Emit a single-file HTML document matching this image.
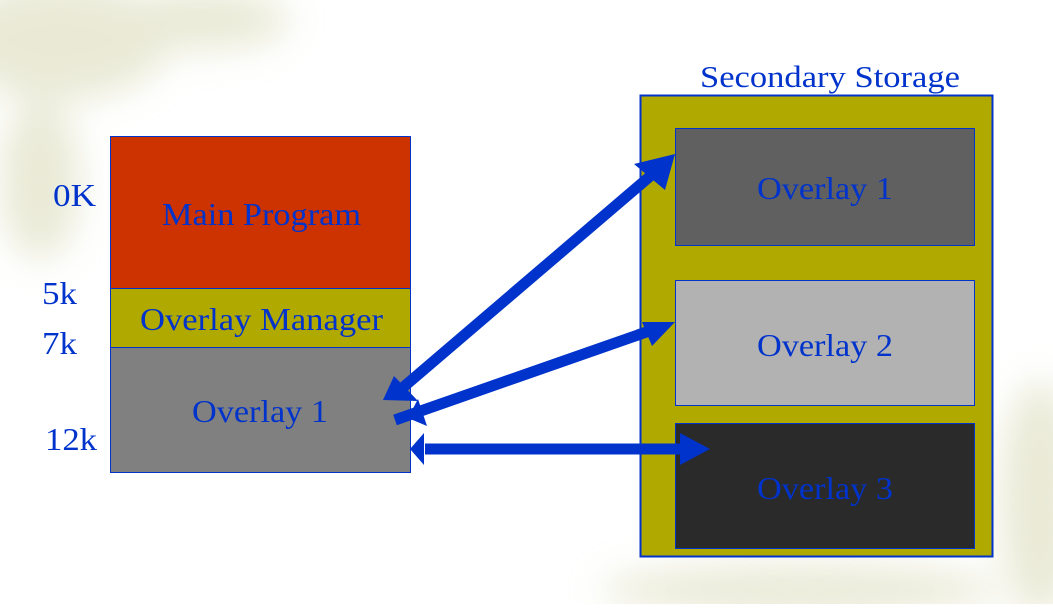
<!DOCTYPE html>
<html><head><style>body{margin:0;width:1053px;height:604px;overflow:hidden;background:#fff}</style></head><body>
<svg width="1053" height="604" xmlns="http://www.w3.org/2000/svg" font-family="Liberation Serif, serif">
<defs><filter id="b"><feGaussianBlur stdDeviation="18"/></filter></defs>
<g filter="url(#b)" fill="#dcdcbc" opacity="0.6">
<ellipse cx="60" cy="40" rx="110" ry="60"/>
<ellipse cx="200" cy="20" rx="90" ry="30"/>
<ellipse cx="40" cy="180" rx="40" ry="80"/>
<ellipse cx="1040" cy="500" rx="40" ry="120"/>
<ellipse cx="800" cy="590" rx="200" ry="25"/>
</g>
<rect x="110.5" y="136.5" width="300" height="336" fill="#808080" stroke="#0033cc"/>
<rect x="110.5" y="136.5" width="300" height="152" fill="#cc3300" stroke="#0033cc"/>
<rect x="110.5" y="288.5" width="300" height="59" fill="#b0aa00" stroke="#0033cc"/>
<g fill="#0033cc" font-size="32" lengthAdjust="spacingAndGlyphs">
<text x="162" y="225" textLength="199" lengthAdjust="spacingAndGlyphs">Main Program</text>
<text x="140" y="330" textLength="243" lengthAdjust="spacingAndGlyphs">Overlay Manager</text>
<text x="192" y="422" textLength="136" lengthAdjust="spacingAndGlyphs">Overlay 1</text>
<text x="53" y="206" textLength="43" lengthAdjust="spacingAndGlyphs">0K</text>
<text x="42" y="304" textLength="35" lengthAdjust="spacingAndGlyphs">5k</text>
<text x="42" y="354" textLength="35" lengthAdjust="spacingAndGlyphs">7k</text>
<text x="45" y="450" textLength="52" lengthAdjust="spacingAndGlyphs">12k</text>
<text x="700" y="87" font-size="31" textLength="260" lengthAdjust="spacingAndGlyphs">Secondary Storage</text>
</g>
<rect x="640.5" y="95.5" width="352" height="461" fill="#b0aa00" stroke="#0033cc" stroke-width="2"/>
<rect x="675.5" y="128.5" width="299" height="117" fill="#606060" stroke="#0033cc"/>
<rect x="675.5" y="280.5" width="299" height="125" fill="#b2b2b2" stroke="#0033cc"/>
<rect x="675.5" y="423.5" width="299" height="125" fill="#2a2a2a" stroke="#0033cc"/>
<g fill="#0033cc" font-size="32">
<text x="757" y="199" textLength="136" lengthAdjust="spacingAndGlyphs">Overlay 1</text>
<text x="757" y="356" textLength="136" lengthAdjust="spacingAndGlyphs">Overlay 2</text>
<text x="757" y="499" textLength="136" lengthAdjust="spacingAndGlyphs">Overlay 3</text>
</g>
<g stroke="#0033cc" stroke-width="11">
<line x1="400" y1="390" x2="655" y2="172"/>
<line x1="395" y1="420" x2="655" y2="329"/>
<line x1="425" y1="449" x2="690" y2="449"/>
</g>
<g fill="#0033cc">
<polygon points="675,154 634,164 665,190"/>
<polygon points="383,400 394,376 418,401"/>
<polygon points="675,322 642,322 652,346"/>
<polygon points="408,418 418,399 427,426"/>
<polygon points="710,449 680,433 680,465"/>
<polygon points="410,449 424,433 424,465"/>
</g>
</svg>
</body></html>
